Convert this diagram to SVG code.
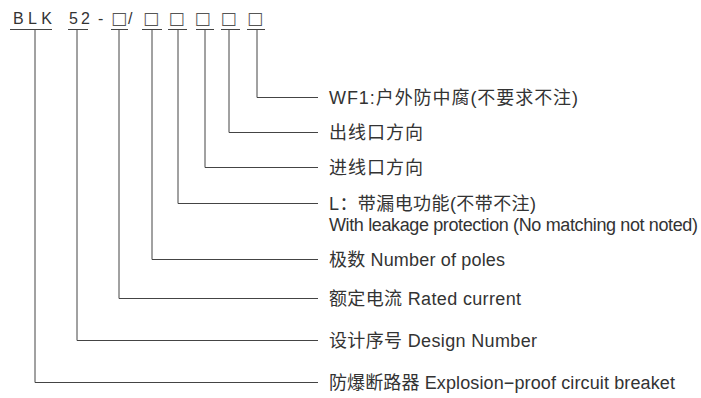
<svg xmlns="http://www.w3.org/2000/svg" width="701" height="398" viewBox="0 0 701 398">
<style>
.t{font-family:"Liberation Sans","Noto Sans CJK SC",sans-serif;font-size:18px;fill:#333}
.h{font-family:"Liberation Sans","Noto Sans CJK SC",sans-serif;font-size:16px;fill:#333}
.b{font-family:"DejaVu Sans",sans-serif;font-size:17px;fill:#555;text-anchor:middle}
.c{fill:none;stroke:#444;stroke-width:1}
</style>
<rect width="701" height="398" fill="#fff"/>
<g id="code">
<text class="h" x="13" y="23.5" textLength="39" lengthAdjust="spacing">BLK</text>
<text class="h" x="69" y="23.5" textLength="21" lengthAdjust="spacing">52</text>
<text class="h" x="98" y="23.5">-</text>
<text class="h" x="128" y="23.5">/</text>
<text class="b" x="119" y="24">□</text>
<text class="b" x="151" y="24">□</text>
<text class="b" x="176.5" y="24">□</text>
<text class="b" x="202.5" y="24">□</text>
<text class="b" x="228.5" y="24">□</text>
<text class="b" x="255" y="24">□</text>
</g>
<g id="connectors" class="c">
<path d="M10 29.5H52M35 29.5V382.5H318"/>
<path d="M68 29.5H88M77 29.5V340.5H318"/>
<path d="M111 29.5H128M119 29.5V298.5H318"/>
<path d="M142 29.5H162M152 29.5V259.5H318"/>
<path d="M168 29.5H187M178 29.5V203.5H318"/>
<path d="M196 29.5H214M205 29.5V167.5H318"/>
<path d="M221 29.5H240M229 29.5V132.5H318"/>
<path d="M247 29.5H265M257 29.5V97.5H318"/>
</g>
<g id="n-wf1"><text class="t" x="329" y="104" textLength="249" lengthAdjust="spacing">WF1:户外防中腐(不要求不注)</text></g>
<g id="n-out"><text class="t" x="329" y="139" textLength="94" lengthAdjust="spacing">出线口方向</text></g>
<g id="n-in"><text class="t" x="329" y="174" textLength="94" lengthAdjust="spacing">进线口方向</text></g>
<g id="n-leak">
<text class="t" x="329" y="210" textLength="207" lengthAdjust="spacing">L：带漏电功能(不带不注)</text>
<text class="t" x="329" y="231" textLength="369" lengthAdjust="spacing">With leakage protection (No matching not noted)</text>
</g>
<g id="n-poles"><text class="t" x="329" y="266" textLength="176" lengthAdjust="spacing">极数 Number of poles</text></g>
<g id="n-rated"><text class="t" x="329" y="305" textLength="192" lengthAdjust="spacing">额定电流 Rated current</text></g>
<g id="n-design"><text class="t" x="329" y="347" textLength="208" lengthAdjust="spacing">设计序号 Design Number</text></g>
<g id="n-ex"><text class="t" x="329" y="389" textLength="346" lengthAdjust="spacing">防爆断路器 Explosion−proof circuit breaket</text></g>
</svg>
